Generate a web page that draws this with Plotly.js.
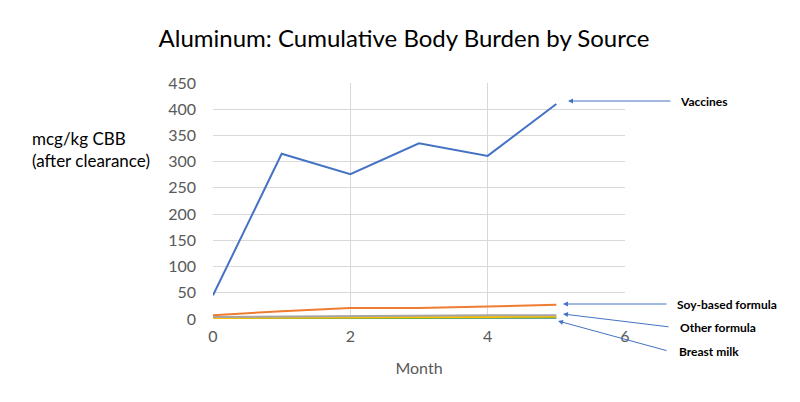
<!DOCTYPE html>
<html>
<head>
<meta charset="utf-8">
<script src="https://cdn.plot.ly/plotly-3.0.1.min.js"></script>
<style>html,body{margin:0;padding:0;background:#fff;}#chart{width:800px;height:402px;}</style>
</head>
<body>
<div id="chart"></div>
<script>
const months = [0, 1, 2, 3, 4, 5];
const vaccines = [45, 315, 276, 335, 311, 410];
const soyFormula = [7, 15, 21, 21, 24, 27];
const otherFormula = [4, 5, 6, 6, 7, 7];
const seriesYellow = [2, 3, 4, 4, 4, 5];
const seriesGreen = [1, 2, 2, 2, 3, 3];
const breastMilk = [0.5, 1, 1, 1, 1, 1];
const yTicks = [0, 50, 100, 150, 200, 250, 300, 350, 400, 450];
const xTicks = [0, 2, 4, 6];

const font = "Lato, 'Open Sans', sans-serif";
function line(y, color, name) {
  return {x: months, y: y, type: 'scatter', mode: 'lines', name: name,
          line: {color: color, width: 2}, showlegend: false, cliponaxis: false};
}
const traces = [
  line(breastMilk, '#5B9BD5', 'Breast milk'),
  line(seriesGreen, '#70AD47', 'Series 5'),
  line(seriesYellow, '#FFC000', 'Series 4'),
  line(otherFormula, '#A5A5A5', 'Other formula'),
  line(soyFormula, '#ED7D31', 'Soy-based formula'),
  line(vaccines, '#4472C4', 'Vaccines')
];

function arrowP(px, py, ax, ay) {
  return {x: (px - 213) / 412, y: (319 - py) / 236, xref: 'paper', yref: 'paper', text: '', showarrow: true,
          arrowhead: 2, arrowsize: 1, arrowwidth: 1, arrowcolor: '#4472C4',
          ax: ax, ay: ay};
}
function label(px, py, txt) {
  return {x: (px - 213) / 412, y: (319 - py) / 236, xref: 'paper', yref: 'paper',
          xanchor: 'left', yanchor: 'middle', text: '<b>' + txt + '</b>', showarrow: false,
          font: {family: font, size: 12, color: '#000'}};
}

const layout = {
  width: 800, height: 402,
  margin: {l: 213, r: 175, t: 83, b: 83},
  paper_bgcolor: '#fff', plot_bgcolor: '#fff',
  title: {text: 'Aluminum: Cumulative Body Burden by Source', x: 0.505, xanchor: 'center',
          y: 0.905, yanchor: 'middle', font: {family: font, size: 24, color: '#000'}},
  xaxis: {range: [0, 6], tickvals: xTicks, showgrid: true, gridcolor: '#D9D9D9',
          zeroline: false, showline: false, ticks: '', ticklabelstandoff: 6,
          tickfont: {family: font, size: 16, color: '#595959'},
          title: {text: 'Month', standoff: 18, font: {family: font, size: 16, color: '#595959'}}},
  yaxis: {range: [0, 450], tickvals: yTicks, showgrid: true, gridcolor: '#D9D9D9',
          zeroline: false, showline: false, ticks: '', ticklabelstandoff: 16,
          tickfont: {family: font, size: 16, color: '#595959'}},
  annotations: [
    arrowP(568, 101, 104, 0),
    arrowP(563, 304, 105, 0),
    arrowP(563, 314, 107, 13),
    arrowP(558, 321, 110, 30),
    label(678, 101, 'Vaccines'),
    label(675, 304, 'Soy-based formula'),
    label(678, 327, 'Other formula'),
    label(677, 351, 'Breast milk'),
    {x: (30 - 213) / 412, y: (319 - 149) / 236, xref: 'paper', yref: 'paper',
     xanchor: 'left', yanchor: 'middle', align: 'left', showarrow: false,
     text: 'mcg/kg CBB<br>(after clearance)',
     font: {family: font, size: 17, color: '#000'}}
  ]
};
Plotly.newPlot('chart', traces, layout, {displayModeBar: false, staticPlot: true});
</script>
</body>
</html>
